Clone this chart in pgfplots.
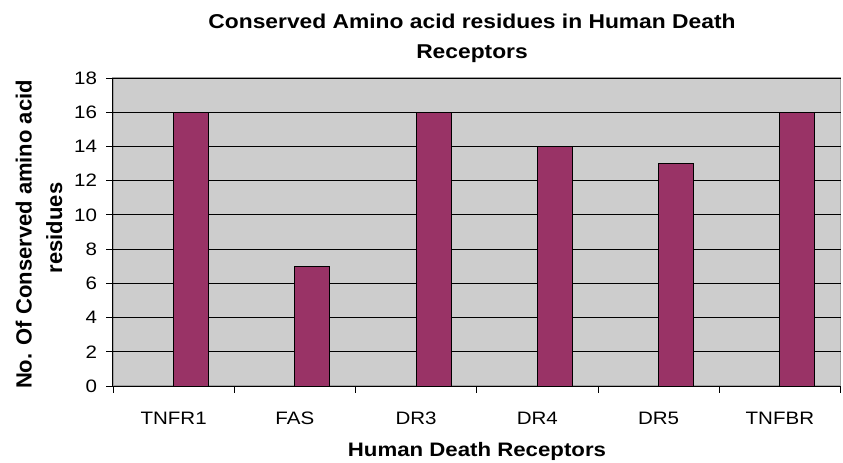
\documentclass[border=0pt]{standalone}
\usepackage{fontspec}
\setmainfont{Liberation Sans}[FakeStretch=1.14]
\newfontfamily\ylfont{Liberation Sans}
\usepackage{pgfplots}
\pgfplotsset{compat=1.18}
\definecolor{bgc}{HTML}{CDCDCD}
\definecolor{barc}{HTML}{993366}
\definecolor{brd}{HTML}{A0A0A0}
\begin{document}
\begin{tikzpicture}
\path[use as bounding box] (-113bp,-77bp) rectangle (730bp,386bp);
\begin{axis}[
  scale only axis,
  width=727.5bp, height=308bp,
  xmin=-0.5, xmax=5.5,
  ymin=0, ymax=18,
  ytick={0,2,...,18},
  xtick={-0.5,0.5,...,5.5},
  xticklabels={},
  extra x ticks={0,1,2,3,4,5},
  extra x tick labels={TNFR1,FAS,DR3,DR4,DR5,TNFBR},
  extra x tick style={tick style={draw=none}},
  xtick pos=bottom, ytick pos=left,
  tick align=outside,
  major tick length=6.5bp,
  tick style={black, line width=0.8bp},
  ymajorgrids=true,
  grid style={black, line width=0.9bp},
  axis line style={draw=none},
  axis background/.style={fill=bgc, draw=brd, line width=1.2bp},
  /pgf/number format/assume math mode=true,
  ticklabel style={font=\fontsize{18bp}{21bp}\selectfont},
  yticklabel style={anchor=east, xshift=-6bp},
  xticklabel style={anchor=base, yshift=-32bp},
  ybar,
  bar width=35bp,
  bar shift=17.5bp,
  clip=false,
]
\addplot[fill=barc, draw=black, line width=0.9bp] coordinates {(0,16) (1,7) (2,16) (3,14) (4,13) (5,16)};
\draw[black, line width=1bp] (rel axis cs:0,1) -- (rel axis cs:0,0) -- (rel axis cs:1,0);
\node[anchor=base, font=\bfseries\fontsize{20bp}{24bp}\selectfont] at (axis description cs:0.4935,1.162) {Conserved Amino acid residues in Human Death};
\node[anchor=base, font=\bfseries\fontsize{20bp}{24bp}\selectfont] at (axis description cs:0.4935,1.0617) {Receptors};
\node[anchor=base, font=\bfseries\fontsize{19.5bp}{23bp}\selectfont] at (axis description cs:0.5003,-0.2273) {Human Death Receptors};
\node[anchor=base, rotate=90, font=\ylfont\bfseries\fontsize{22bp}{26bp}\selectfont] at (axis description cs:-0.1118,0.492) {No. Of Conserved amino acid};
\node[anchor=base, rotate=90, font=\ylfont\bfseries\fontsize{22bp}{26bp}\selectfont] at (axis description cs:-0.0701,0.513) {residues};
\end{axis}
\end{tikzpicture}
\end{document}
